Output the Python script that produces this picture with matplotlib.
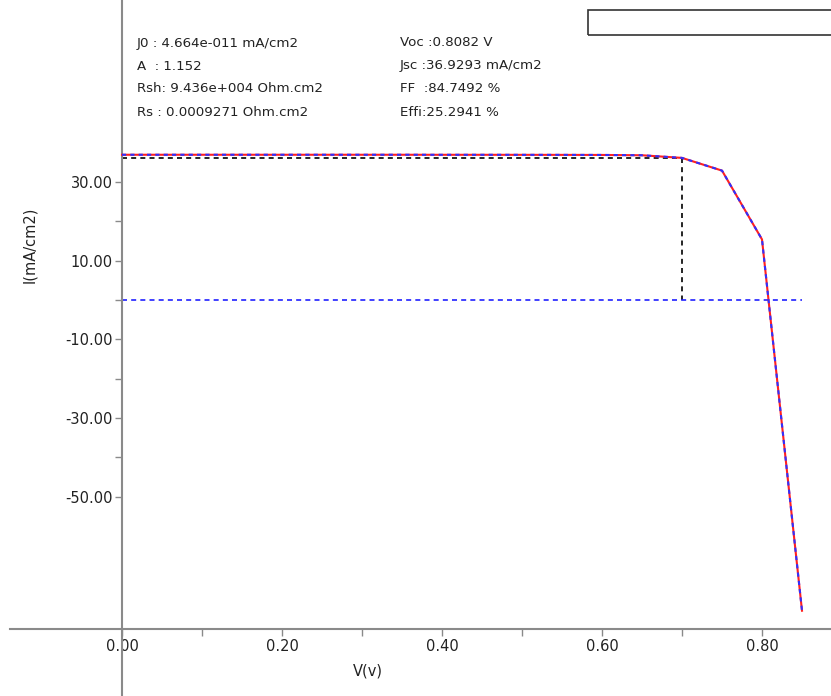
import matplotlib.pyplot as plt
from matplotlib.patches import Rectangle

# J-V curve data
volts = [0.00, 0.05, 0.10, 0.15, 0.20, 0.25, 0.30, 0.35, 0.40, 0.45,
         0.50, 0.55, 0.60, 0.65, 0.70, 0.75, 0.80, 0.85]
curr = [36.93, 36.93, 36.93, 36.93, 36.93, 36.93, 36.93, 36.93, 36.92, 36.92,
        36.91, 36.90, 36.88, 36.80, 36.13, 32.9, 15.4, -79.0]

v_mp = 0.70
j_mp = 36.13

params_left = ["J0 : 4.664e-011 mA/cm2", "A  : 1.152",
               "Rsh: 9.436e+004 Ohm.cm2", "Rs : 0.0009271 Ohm.cm2"]
params_right = ["Voc :0.8082 V", "Jsc :36.9293 mA/cm2",
                "FF  :84.7492 %", "Effi:25.2941 %"]

yticks = [30, 20, 10, 0, -10, -20, -30, -40, -50]
ytick_labels = ["30.00", "", "10.00", "", "-10.00", "", "-30.00", "", "-50.00"]
xticks = [0.0, 0.1, 0.2, 0.3, 0.4, 0.5, 0.6, 0.7, 0.8]
xtick_labels = ["0.00", "", "0.20", "", "0.40", "", "0.60", "", "0.80"]

W, H = 831, 696
fig = plt.figure(figsize=(W / 100, H / 100), dpi=100)
ax = fig.add_axes([0, 0, 1, 1])

# pixel mapping: V=0 at x=122, 800 px per volt; J=0 at y=300, 3.933 px per mA/cm2
x0, sx = 122, 800.0
y0, sy = 300, 3.933
ax.set_xlim(-x0 / sx, (W - x0) / sx)
ax.set_ylim((y0 - H) / sy, y0 / sy)
y_axis_pos = (y0 - 629) / sy

axcol = '#8a8a8a'
for s in ['top', 'right']:
    ax.spines[s].set_visible(False)
ax.spines['left'].set_position(('data', 0))
ax.spines['bottom'].set_position(('data', y_axis_pos))
ax.spines['bottom'].set_bounds((10 - x0) / sx, (W - x0) / sx)
for s in ['left', 'bottom']:
    ax.spines[s].set_color(axcol)
    ax.spines[s].set_linewidth(1.5)

ax.set_yticks(yticks)
ax.set_yticklabels(ytick_labels)
ax.set_xticks(xticks)
ax.set_xticklabels(xtick_labels)
ax.tick_params(direction='out', length=5, width=1, color=axcol,
               labelsize=10.5, labelcolor='#222222')
ax.tick_params(axis='y', pad=1.5)
ax.tick_params(axis='x', pad=2.5)

# reference lines
ax.plot([0, v_mp], [j_mp, j_mp], color='black', lw=1.2, ls=(0, (3, 2.5)), zorder=2)
ax.plot([v_mp, v_mp], [j_mp, 0], color='black', lw=1.2, ls=(0, (3, 2.5)), zorder=2)
ax.plot([0, 0.85], [0, 0], color='#2020ff', lw=1.2, ls=(0, (3, 2.5)), zorder=2)

# curve: red solid with blue dashes on top
ax.plot(volts, curr, color='#ff2020', lw=1.5, zorder=3)
ax.plot(volts, curr, color='#3030ff', lw=1.5, ls=(0, (2, 2)), zorder=4)

fig.text(30 / W, 1 - 245 / H, "I(mA/cm2)", rotation=90, ha='center', va='center',
         fontsize=10.5, color='#222222')
fig.text(368 / W, 1 - 671 / H, "V(v)", ha='center', va='center',
         fontsize=10.5, color='#222222')

for i, (a, b) in enumerate(zip(params_left, params_right)):
    yy = 1 - (43 + i * 23) / H
    fig.text(137 / W, yy, a, ha='left', va='center', fontsize=9.6, color='#222222')
    fig.text(400 / W, yy, b, ha='left', va='center', fontsize=9.6, color='#222222')

# empty legend box
fig.patches.append(Rectangle((588 / W, 1 - 35 / H), 260 / W, 25 / H,
                             transform=fig.transFigure, fill=False,
                             edgecolor='#333333', lw=1.2))

fig.savefig('out.png', dpi=100)
